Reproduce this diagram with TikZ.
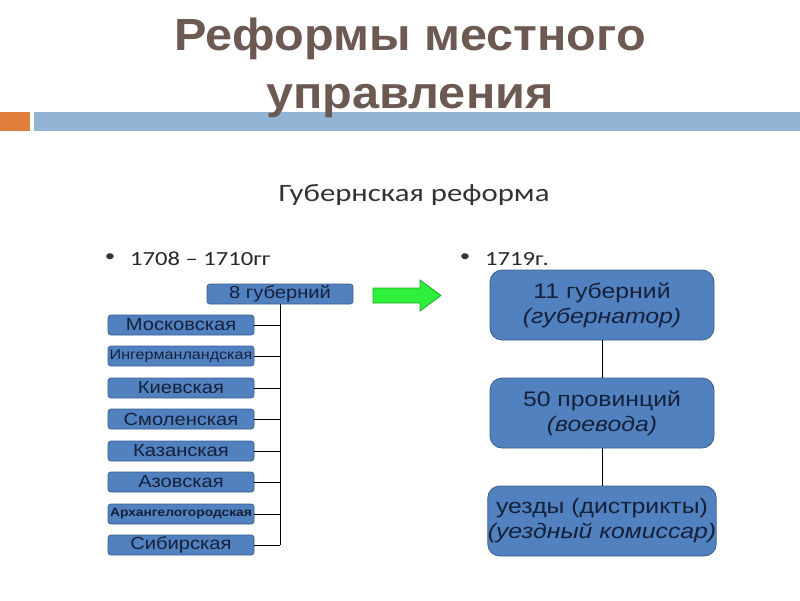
\documentclass[tikz,border=0pt]{standalone}
\usepackage{fontspec}
\setmainfont{Liberation Sans}
\newfontfamily\titlefont[FakeStretch=1.08]{Liberation Sans}
\newfontfamily\calib[FakeStretch=1.23]{Carlito}
\newfontfamily\arialR[FakeStretch=1.18]{Liberation Sans}
\newfontfamily\arialL[FakeStretch=1.15]{Liberation Sans}
\definecolor{titlec}{HTML}{6B5952}
\definecolor{orangebar}{HTML}{E07E3C}
\definecolor{bluebar}{HTML}{93B4D4}
\definecolor{boxfill}{HTML}{5181BE}
\definecolor{boxline}{HTML}{3A5F8E}
\definecolor{boxtext}{HTML}{15203A}
\definecolor{greenfill}{HTML}{2EF03A}
\definecolor{greenline}{HTML}{22A82A}
\tikzset{
  ttl/.style={font=\titlefont\bfseries\fontsize{45}{50}\selectfont, text=titlec, anchor=base, inner sep=0pt},
  gbox/.style={draw=boxline, fill=boxfill, line width=0.8pt, rounded corners=3pt,
    minimum width=146pt, minimum height=20pt, inner sep=0pt, text=boxtext,
    font=\arialL\fontsize{17.5}{18}\selectfont},
  rbox/.style={draw=boxline, fill=boxfill, line width=0.8pt, rounded corners=12pt,
    minimum width=224pt, minimum height=70pt, inner sep=0pt, text=boxtext,
    align=center, font=\arialR\fontsize{21}{25}\selectfont},
  conn/.style={draw=black, line width=1pt},
  btext/.style={font=\calib\fontsize{20}{24}\selectfont, text=black!85, anchor=west, inner sep=0pt},
  bdot/.style={font=\calib\fontsize{17}{20}\selectfont, text=black!80, inner sep=0pt}
}
\begin{document}
\begin{tikzpicture}[x=1pt,y=-1pt]
\useasboundingbox (0,0) rectangle (800,600);
\fill[white] (0,0) rectangle (800,600);
% bars
\fill[orangebar] (0,112) rectangle (30,131);
\fill[bluebar] (34,112) rectangle (800,131);
% title
\node[ttl] (title1) at (410,50) {Реформы местного};
\node[ttl] (title2) at (410,108) {управления};
% subtitle
\node[font=\calib\fontsize{25}{28}\selectfont, text=black!80] (sub) at (414,195) {Губернская реформа};
% bullets
\node[bdot] (d1) at (110,258) {•};
\node[btext] (b1) at (130,259) {1708 – 1710гг};
\node[bdot] (d2) at (465,258) {•};
\node[btext] (b2) at (485,259) {1719г.};
% left tree
\node[gbox] (g8) at (280,294) {8 губерний};
\node[gbox] (m1) at (181,325) {Московская};
\node[gbox, font=\arialL\fontsize{14}{15}\selectfont] (m2) at (181,356) {Ингерманландская};
\node[gbox] (m3) at (181,388) {Киевская};
\node[gbox] (m4) at (181,419) {Смоленская};
\node[gbox] (m5) at (181,451) {Казанская};
\node[gbox] (m6) at (181,482) {Азовская};
\node[gbox, font=\arialL\bfseries\fontsize{12}{13}\selectfont] (m7) at (181,514) {Архангелогородская};
\node[gbox] (m8) at (181,545) {Сибирская};
\coordinate (vb) at (280,545);
\draw[conn] (g8.south) -- (vb);
\foreach \n in {m1,m2,m3,m4,m5,m6,m7,m8}{
  \draw[conn] (\n.east) -- (\n.east -| g8.south);
}
% green arrow
\filldraw[fill=greenfill, draw=greenline, line width=0.8pt]
  (373,288) -- (420,288) -- (420,280) -- (441,295.5) -- (420,311) -- (420,303) -- (373,303) -- cycle;
% right column
\node[rbox] (r1) at (602,305) {11 губерний\\\textit{(губернатор)}};
\node[rbox] (r2) at (602,413) {50 провинций\\\textit{(воевода)}};
\node[rbox] (r3) at (602,521) {уезды (дистрикты)\\\textit{(уездный комиссар)}};
\draw[conn] (r1.south) -- (r2.north);
\draw[conn] (r2.south) -- (r3.north);
\end{tikzpicture}
\end{document}
